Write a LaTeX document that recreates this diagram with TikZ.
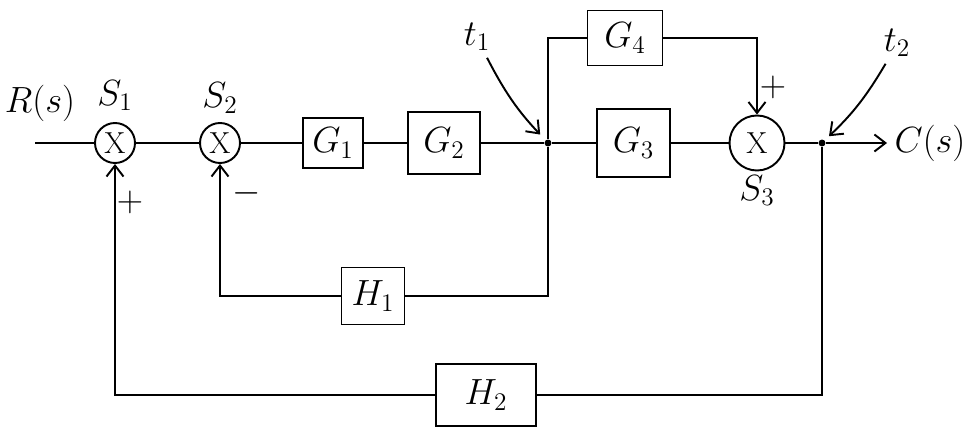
\documentclass[tikz,border=0pt]{standalone}
\usepackage{tikz}
\usetikzlibrary{positioning,calc,arrows.meta}
\usepackage{amsmath}

\begin{document}
\begin{tikzpicture}[node distance=2.2cm, on grid, line width=1.1pt,
    >={Straight Barb[length=2.2mm,width=3.4mm]}, font=\huge,
    block/.style={draw, minimum width=1.45cm, minimum height=1.25cm, inner sep=2pt},
    summer/.style={draw, circle, minimum size=0.8cm, inner sep=0pt, font=\LARGE},
    joint/.style={circle, fill, inner sep=1.4pt}]
    \useasboundingbox (0,0) rectangle (19.46,8.74);%
    \coordinate (in) at (0.7,5.88);%
    \node[summer] (s1) at (2.3,5.88) {X};%
    \node[summer] (s2) [right=2.1cm of s1] {X};%
    \node[block, minimum width=1.2cm, minimum height=1cm] (g1) [right=2.26cm of s2] {$G_1$};%
    \node[block] (g2) [right=2.22cm of g1] {$G_2$};%
    \node[joint] (t1) [right=2.08cm of g2] {};%
    \node[block, minimum height=1.35cm] (g3) [right=1.71cm of t1] {$G_3$};%
    \node[summer, minimum size=1.1cm] (s3) [right=2.47cm of g3] {X};%
    \node[joint] (t2) [right=1.3cm of s3] {};%
    \coordinate (out) at ($(t2)+(1.3,0)$);%
    \node (cs) at (18.6,5.88) {$C(s)$};%
    \node[block, minimum width=1.5cm, minimum height=1.1cm] (g4) [above=2.1cm of g3, xshift=-0.17cm] {$G_4$};%
    \node[block, minimum width=1.26cm, minimum height=1.14cm] (h1) [below=3.06cm of g1, xshift=0.8cm] {$H_1$};%
    \node[block, minimum width=2cm] (h2) [below=5.04cm of g2, xshift=0.84cm] {$H_2$};%
    % labels
    \node (rs) at (0.8,6.68) {$R(s)$};%
    \node (s1lab) [above=0.95cm of s1] {$S_1$};%
    \node (s2lab) [above=0.9cm of s2] {$S_2$};%
    \node (s3lab) [below=0.95cm of s3] {$S_3$};%
    \node (t1lab) at (9.54,8.0) {$t_1$};%
    \node (t2lab) at (17.94,7.88) {$t_2$};%
    \node (p1) at (2.6,4.7) {$+$};%
    \node (m2) at (4.94,4.88) {$-$};%
    \node (p3) at (15.46,7.0) {$+$};%
    % forward path
    \draw (in) -- (s1) -- (s2) -- (g1) -- (g2) -- (t1) -- (g3) -- (s3) -- (t2);%
    \draw[->] (t2) -- (out);%
    \draw (t1) |- (g4);%
    \draw[->] (g4) -| (s3);%
    % feedback loops
    \draw[->] (t1) |- (h1) -| (s2);%
    \draw[->] (t2) |- (h2) -| (s1);%
    % take-off point markers
    \draw[->, shorten >=4pt] (t1lab) to[bend right=8] (t1);%
    \draw[->, shorten >=3pt] (t2lab) to[bend left=8] (t2);%
\end{tikzpicture}
\end{document}
